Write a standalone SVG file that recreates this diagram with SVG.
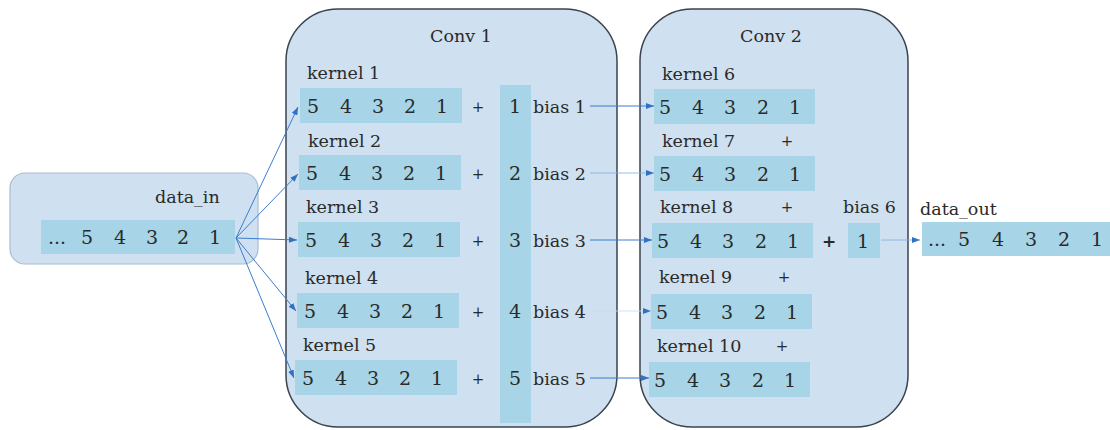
<svg xmlns="http://www.w3.org/2000/svg" width="1110" height="430" viewBox="0 0 1110 430">
<defs>
<marker id="ah" markerWidth="8" markerHeight="6" refX="8" refY="3" orient="auto" markerUnits="userSpaceOnUse">
<path d="M0,0 L8,3 L0,6 z" fill="#2f72c4"/>
</marker>
<style>
text{font-family:"DejaVu Serif","Liberation Serif",serif;font-size:17.5px;fill:#2a2a2a}
.n{text-anchor:middle;font-size:19px}
.p{text-anchor:middle;font-size:15px}
.strip{fill:#a7d4e6}
.pane{fill:#cfe0f0;stroke:#3a434f;stroke-width:1.5}
.conn{stroke:#3b7dd0;stroke-width:1;fill:none}
.faint{stroke:#7fb0e0;stroke-width:0.8;fill:none}
.vfaint{stroke:#c5daee;stroke-width:0.8;fill:none}
.b{font-weight:bold;font-size:17px}
</style>
</defs>
<rect width="1110" height="430" fill="#ffffff"/>

<g id="data_in">
<rect x="10" y="173" width="248" height="91" rx="15" fill="#cfe0f0" stroke="#a9bccf" stroke-width="1.2"/>
<text x="155" y="203">data_in</text>
<rect class="strip" x="41" y="220" width="194" height="34"/>
<text class="n" x="57" y="244">...</text>
<text class="n" x="87" y="244">5</text>
<text class="n" x="120" y="244">4</text>
<text class="n" x="152" y="244">3</text>
<text class="n" x="183" y="244">2</text>
<text class="n" x="215" y="244">1</text>
</g>

<g id="conv1">
<rect class="pane" x="286" y="9" width="331" height="418" rx="52"/>
<text x="430" y="42">Conv 1</text>
<rect class="strip" x="500" y="85" width="31" height="338"/>
<g id="kernel1">
<text x="307" y="79">kernel 1</text>
<rect class="strip" x="300" y="88" width="162" height="35"/>
<text class="n" x="313" y="113">5</text><text class="n" x="346" y="113">4</text><text class="n" x="378" y="113">3</text><text class="n" x="410" y="113">2</text><text class="n" x="442" y="113">1</text>
<text class="p" x="478" y="112">+</text><text class="n" x="515" y="113">1</text><text x="533" y="113">bias 1</text>
</g>
<g id="kernel2">
<text x="308" y="147">kernel 2</text>
<rect class="strip" x="299" y="155" width="162" height="35"/>
<text class="n" x="312" y="180">5</text><text class="n" x="345" y="180">4</text><text class="n" x="377" y="180">3</text><text class="n" x="409" y="180">2</text><text class="n" x="441" y="180">1</text>
<text class="p" x="478" y="179">+</text><text class="n" x="515" y="180">2</text><text x="533" y="180">bias 2</text>
</g>
<g id="kernel3">
<text x="306" y="213">kernel 3</text>
<rect class="strip" x="298" y="222" width="162" height="35"/>
<text class="n" x="311" y="247">5</text><text class="n" x="344" y="247">4</text><text class="n" x="376" y="247">3</text><text class="n" x="408" y="247">2</text><text class="n" x="440" y="247">1</text>
<text class="p" x="478" y="246">+</text><text class="n" x="515" y="247">3</text><text x="533" y="247">bias 3</text>
</g>
<g id="kernel4">
<text x="305" y="284">kernel 4</text>
<rect class="strip" x="297" y="293" width="162" height="35"/>
<text class="n" x="310" y="318">5</text><text class="n" x="343" y="318">4</text><text class="n" x="375" y="318">3</text><text class="n" x="407" y="318">2</text><text class="n" x="439" y="318">1</text>
<text class="p" x="478" y="317">+</text><text class="n" x="515" y="318">4</text><text x="533" y="318">bias 4</text>
</g>
<g id="kernel5">
<text x="303" y="351">kernel 5</text>
<rect class="strip" x="295" y="360" width="162" height="35"/>
<text class="n" x="308" y="385">5</text><text class="n" x="341" y="385">4</text><text class="n" x="373" y="385">3</text><text class="n" x="405" y="385">2</text><text class="n" x="437" y="385">1</text>
<text class="p" x="478" y="384">+</text><text class="n" x="515" y="385">5</text><text x="533" y="385">bias 5</text>
</g>
</g>

<g id="conv2">
<rect class="pane" x="640" y="9" width="268" height="418" rx="52"/>
<text x="740" y="42">Conv 2</text>
<g id="kernel6">
<text x="662" y="80">kernel 6</text>
<rect class="strip" x="654" y="89" width="161" height="35"/>
<text class="n" x="665" y="114">5</text><text class="n" x="698" y="114">4</text><text class="n" x="730" y="114">3</text><text class="n" x="763" y="114">2</text><text class="n" x="795" y="114">1</text>
</g>
<g id="kernel7">
<text x="662" y="147">kernel 7</text><text class="p" x="787" y="146">+</text>
<rect class="strip" x="654" y="156" width="161" height="35"/>
<text class="n" x="665" y="181">5</text><text class="n" x="698" y="181">4</text><text class="n" x="730" y="181">3</text><text class="n" x="763" y="181">2</text><text class="n" x="795" y="181">1</text>
</g>
<g id="kernel8">
<text x="660" y="213">kernel 8</text><text class="p" x="787" y="212">+</text>
<rect class="strip" x="652" y="223" width="161" height="35"/>
<text class="n" x="663" y="248">5</text><text class="n" x="696" y="248">4</text><text class="n" x="728" y="248">3</text><text class="n" x="761" y="248">2</text><text class="n" x="793" y="248">1</text>
<text class="n b" x="829" y="247">+</text>
</g>
<g id="kernel9">
<text x="659" y="283">kernel 9</text><text class="p" x="784" y="282">+</text>
<rect class="strip" x="651" y="294" width="161" height="35"/>
<text class="n" x="662" y="319">5</text><text class="n" x="695" y="319">4</text><text class="n" x="727" y="319">3</text><text class="n" x="760" y="319">2</text><text class="n" x="792" y="319">1</text>
</g>
<g id="kernel10">
<text x="657" y="352">kernel 10</text><text class="p" x="782" y="351">+</text>
<rect class="strip" x="649" y="362" width="161" height="35"/>
<text class="n" x="660" y="387">5</text><text class="n" x="693" y="387">4</text><text class="n" x="725" y="387">3</text><text class="n" x="758" y="387">2</text><text class="n" x="790" y="387">1</text>
</g>
<g id="bias6">
<text x="843" y="213">bias 6</text>
<rect class="strip" x="848" y="223" width="32" height="35"/>
<text class="n" x="863" y="248">1</text>
</g>
</g>

<g id="data_out">
<text x="920" y="215">data_out</text>
<rect class="strip" x="922" y="222" width="188" height="34"/>
<text class="n" x="937" y="246">...</text>
<text class="n" x="964" y="246">5</text>
<text class="n" x="998" y="246">4</text>
<text class="n" x="1031" y="246">3</text>
<text class="n" x="1064" y="246">2</text>
<text class="n" x="1097" y="246">1</text>
</g>

<g id="connectors">
<line class="conn" x1="236" y1="238" x2="298" y2="107" marker-end="url(#ah)"/>
<line class="conn" x1="236" y1="238" x2="298" y2="174" marker-end="url(#ah)"/>
<line class="conn" x1="236" y1="238" x2="297" y2="240" marker-end="url(#ah)"/>
<line class="conn" x1="236" y1="238" x2="296" y2="311" marker-end="url(#ah)"/>
<line class="conn" x1="236" y1="238" x2="294" y2="378" marker-end="url(#ah)"/>
<line class="conn" x1="590" y1="106" x2="654" y2="106" marker-end="url(#ah)"/>
<line class="faint" x1="590" y1="173" x2="654" y2="173" marker-end="url(#ah)"/>
<line class="conn" x1="590" y1="240" x2="652" y2="240" stroke-width="1.3" marker-end="url(#ah)"/>
<line class="vfaint" x1="590" y1="311" x2="651" y2="311" marker-end="url(#ah)"/>
<line class="conn" x1="590" y1="378" x2="649" y2="378" marker-end="url(#ah)"/>
<line class="faint" x1="881" y1="240" x2="920" y2="240" marker-end="url(#ah)"/>
</g>
</svg>
